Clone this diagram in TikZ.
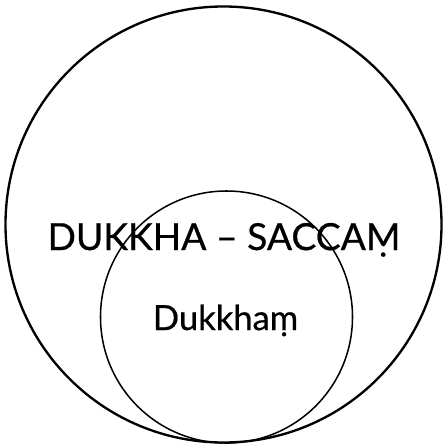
\documentclass[tikz,border=0pt]{standalone}
\usepackage{fontspec}
\setsansfont{Lato}[FakeBold=0.6]
\usetikzlibrary{positioning}

\begin{document}
\begin{tikzpicture}[x=0.03cm, y=-0.03cm,
  every node/.style={font=\sffamily},
  ring/.style={draw, circle, inner sep=0pt, minimum size=#1},
  label/.style={anchor=base, inner sep=0pt, font=\sffamily\fontsize{#1}{#1}\selectfont}
]
  \useasboundingbox (0,0) rectangle (442,447);

  % the whole truth
  \node[ring=13.08cm, line width=2pt] (saccamring) at (223.5,224.5) {};
  % the part inside it
  \node[ring=7.56cm, line width=1.3pt] (dukkhamring) at (226.5,317) {};

  % labels
  \node[label=31.8] (saccam) at (224,250) {DUKKHA – SACCAṂ};
  \node[label=29.5] (dukkham) at (225.5,330) {Dukkhaṃ};
\end{tikzpicture}
\end{document}
